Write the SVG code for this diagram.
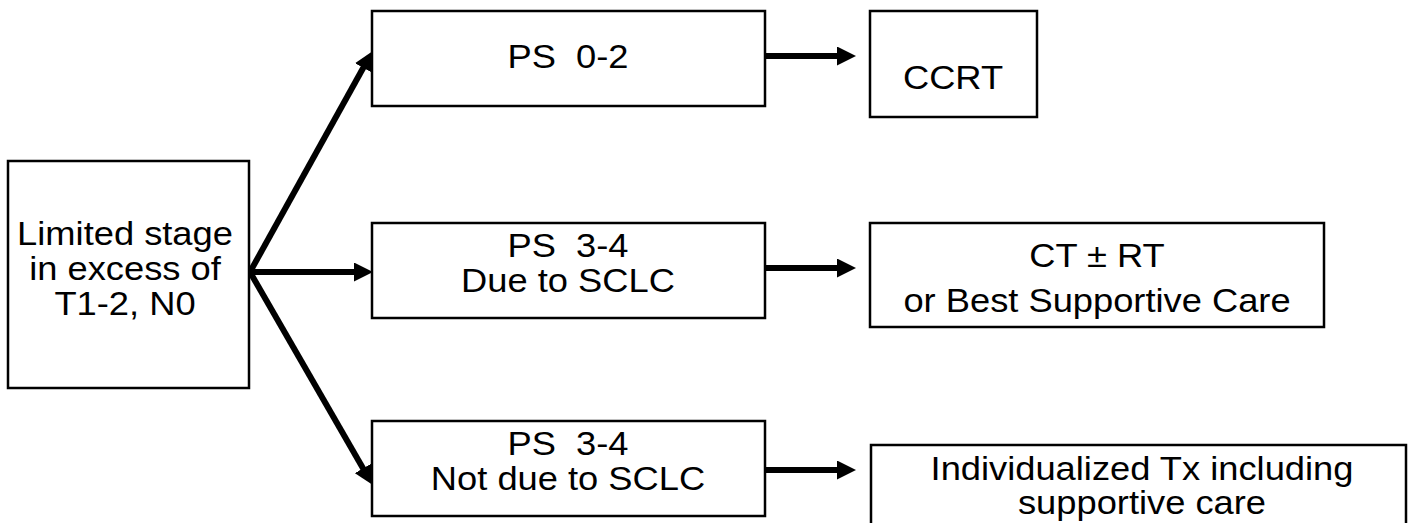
<svg xmlns="http://www.w3.org/2000/svg" width="1410" height="523" viewBox="0 0 1410 523">
<style>
.box{fill:#fff;stroke:#000;stroke-width:2.5}
.t{font-family:"Liberation Sans",Arial,sans-serif;font-size:33px;fill:#000;text-anchor:middle}
.c{stroke:#000;stroke-width:6;fill:none}
</style>
<defs>
<marker id="ah" markerUnits="userSpaceOnUse" markerWidth="19" markerHeight="19" refX="6" refY="9.5" orient="auto">
<path d="M0,0 L19,9.5 L0,19 z" fill="#000"/>
</marker>
</defs>
<rect width="1410" height="523" fill="#fff"/>
<g id="connectors">
<line class="c" x1="250" y1="272" x2="366.2" y2="62.5" marker-end="url(#ah)"/>
<line class="c" x1="250" y1="272" x2="360" y2="272" marker-end="url(#ah)"/>
<line class="c" x1="250" y1="272" x2="366" y2="473.6" marker-end="url(#ah)"/>
<line class="c" x1="765" y1="56" x2="843" y2="56" marker-end="url(#ah)"/>
<line class="c" x1="765" y1="268" x2="843" y2="268" marker-end="url(#ah)"/>
<line class="c" x1="765" y1="470" x2="843" y2="470" marker-end="url(#ah)"/>
</g>
<g id="limited">
<rect class="box" x="8" y="161" width="241" height="227"/>
<g transform="translate(125,245) scale(1.1,1)"><text class="t" x="0" y="0">Limited stage</text></g>
<g transform="translate(125,280) scale(1.1,1)"><text class="t" x="0" y="0">in excess of</text></g>
<g transform="translate(125,315) scale(1.1,1)"><text class="t" x="0" y="0">T1-2, N0</text></g>
</g>
<g id="ps02">
<rect class="box" x="372" y="11" width="393" height="95"/>
<g transform="translate(568,68) scale(1.1,1)"><text class="t" x="0" y="0">PS&#160; 0-2</text></g>
</g>
<g id="ccrt">
<rect class="box" x="870" y="11" width="167" height="106"/>
<g transform="translate(953,89) scale(1.1,1)"><text class="t" x="0" y="0">CCRT</text></g>
</g>
<g id="ps34due">
<rect class="box" x="372" y="223" width="393" height="95"/>
<g transform="translate(568,257) scale(1.1,1)"><text class="t" x="0" y="0">PS&#160; 3-4</text></g>
<g transform="translate(568,292) scale(1.1,1)"><text class="t" x="0" y="0">Due to SCLC</text></g>
</g>
<g id="ctrt">
<rect class="box" x="870" y="223" width="454" height="104"/>
<g transform="translate(1097,267) scale(1.1,1)"><text class="t" x="0" y="0">CT ± RT</text></g>
<g transform="translate(1097,312) scale(1.1,1)"><text class="t" x="0" y="0">or Best Supportive Care</text></g>
</g>
<g id="ps34notdue">
<rect class="box" x="372" y="421" width="393" height="95"/>
<g transform="translate(568,455) scale(1.1,1)"><text class="t" x="0" y="0">PS&#160; 3-4</text></g>
<g transform="translate(568,490) scale(1.1,1)"><text class="t" x="0" y="0">Not due to SCLC</text></g>
</g>
<g id="individualized">
<rect class="box" x="871" y="445" width="535" height="100"/>
<g transform="translate(1142,480) scale(1.1,1)"><text class="t" x="0" y="0">Individualized Tx including</text></g>
<g transform="translate(1142,514) scale(1.1,1)"><text class="t" x="0" y="0">supportive care</text></g>
</g>
</svg>
